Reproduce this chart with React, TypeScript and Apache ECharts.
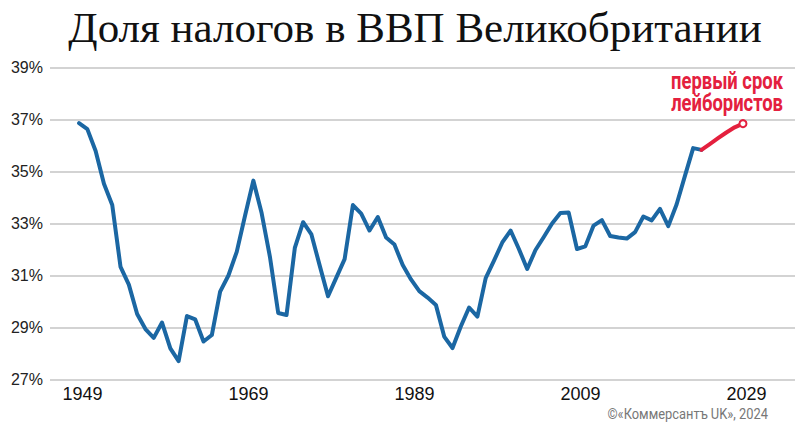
import React, { useEffect, useRef } from "react";
import * as echarts from "echarts";

const TITLE = "Доля налогов в ВВП Великобритании";
const NOTE = "первый срок\nлейбористов";
const SOURCE = "©«Коммерсантъ UK», 2024";

const historyStartYear = 1949;
const historyValues = [
  36.86, 36.63, 35.79, 34.53, 33.71, 31.33, 30.65, 29.52, 28.94, 28.6,
  29.19, 28.2, 27.71, 29.44, 29.31, 28.46, 28.71, 30.38, 31.0, 31.91,
  33.3, 34.65, 33.4, 31.72, 29.56, 29.48, 32.06, 33.05, 32.58, 31.38,
  30.2, 30.92, 31.63, 33.71, 33.38, 32.73, 33.25, 32.46, 32.19, 31.4,
  30.85, 30.4, 30.15, 29.87, 28.65, 28.21, 29.04, 29.77, 29.42, 30.9,
  31.57, 32.27, 32.73, 32.02, 31.25, 31.98, 32.48, 33.0, 33.4, 33.42,
  32.02, 32.12, 32.92, 33.13, 32.52, 32.46, 32.42, 32.67, 33.27, 33.12,
  33.56, 32.9, 33.73, 34.82, 35.9, 35.83,
];

const forecastStartYear = 2024;
const forecastValues = [35.83, 36.05, 36.28, 36.5, 36.7, 36.84];

const xTickYears = [1949, 1969, 1989, 2009, 2029];
const yTicks = { min: 27, max: 39, step: 2 };

const toPairs = (start: number, vals: number[]) => vals.map((v, i) => [start + i, v]);

export default function App() {
  const ref = useRef<HTMLDivElement>(null);
  useEffect(() => {
    if (!ref.current) return;
    const chart = echarts.init(ref.current, undefined, { renderer: "svg" });
    const forecast = toPairs(forecastStartYear, forecastValues);
    chart.setOption({
      animation: false,
      backgroundColor: "#ffffff",
      grid: { left: 50, right: 5, top: 67.5, bottom: 52.5, containLabel: false },
      xAxis: {
        type: "value",
        min: 1945.5,
        max: 2035.27,
        axisLine: { show: false },
        axisTick: { show: false },
        splitLine: { show: false },
        axisLabel: {
          customValues: xTickYears,
          formatter: (v: number) => String(v),
          fontFamily: "Liberation Sans, Arial, sans-serif",
          fontSize: 18,
          color: "#111",
          margin: 5,
          padding: [0, 0, 0, 7],
        },
      },
      yAxis: {
        type: "value",
        min: yTicks.min,
        max: yTicks.max,
        interval: yTicks.step,
        axisLine: { show: false },
        axisTick: { show: false },
        splitLine: { lineStyle: { color: "#d3d3d3", width: 2 } },
        axisLabel: {
          formatter: "{value}%",
          fontFamily: "Liberation Sans, Arial, sans-serif",
          fontSize: 16,
          color: "#222",
          margin: 7,
        },
      },
      series: [
        {
          type: "line",
          data: toPairs(historyStartYear, historyValues),
          showSymbol: false,
          symbol: "none",
          lineStyle: { color: "#1b67a3", width: 4, join: "round", cap: "round" },
          z: 3,
        },
        {
          type: "line",
          data: forecast.map((p, i) =>
            i === forecast.length - 1
              ? { value: p, symbol: "circle", symbolSize: 7 }
              : { value: p, symbol: "none" }
          ),
          lineStyle: { color: "#e4203e", width: 4, join: "round", cap: "round" },
          itemStyle: { color: "#ffffff", borderColor: "#e4203e", borderWidth: 2 },
          z: 4,
        },
      ],
      graphic: [
        {
          type: "text",
          x: 415,
          y: 6,
          style: {
            text: TITLE,
            align: "center",
            fontFamily: "Liberation Serif, Times New Roman, serif",
            fontSize: 43,
            fill: "#111",
          },
        },
        {
          type: "text",
          x: 783,
          y: 70,
          scaleX: 0.8,
          style: {
            text: NOTE,
            align: "right",
            fontFamily: "Roboto, Liberation Sans, sans-serif",
            fontWeight: "bold",
            fontSize: 23,
            lineHeight: 22,
            fill: "#e4203e",
          },
        },
        {
          type: "text",
          x: 768,
          y: 406,
          scaleX: 0.86,
          style: {
            text: SOURCE,
            align: "right",
            fontFamily: "Roboto, Liberation Sans, sans-serif",
            fontSize: 15,
            fill: "#777",
          },
        },
      ],
    });
    return () => chart.dispose();
  }, []);
  return (
    <div
      ref={ref}
      style={{ position: "fixed", left: 0, top: 0, width: 800, height: 432 }}
    />
  );
}
